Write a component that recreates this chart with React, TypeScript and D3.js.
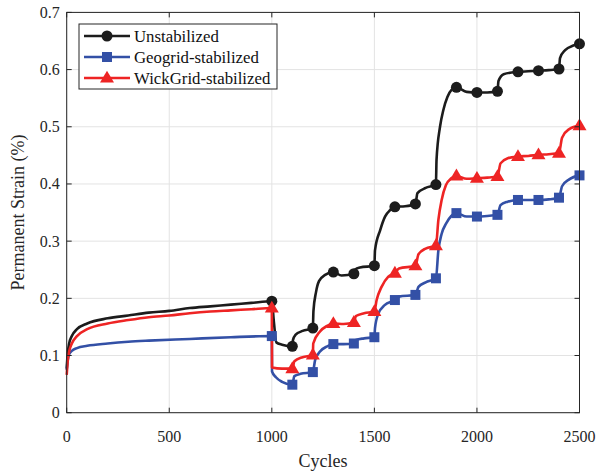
import React, { useEffect, useRef } from 'react'
import * as d3 from 'd3'

// [cycles, permanent strain %]
const unstabilized: [number, number][] = [
  [0, 0.077], [5, 0.104], [12, 0.121], [25, 0.134], [50, 0.146], [100, 0.156],
  [200, 0.165], [300, 0.17], [400, 0.175], [500, 0.178], [600, 0.183], [700, 0.186],
  [800, 0.189], [900, 0.192], [1000, 0.195],
  [1010, 0.159], [1022, 0.123], [1050, 0.119], [1100, 0.116],
  [1103, 0.127], [1115, 0.136], [1150, 0.143], [1200, 0.148],
  [1203, 0.178], [1215, 0.21], [1230, 0.23], [1260, 0.241], [1300, 0.246],
  [1340, 0.24], [1400, 0.243],
  [1405, 0.25], [1430, 0.254], [1500, 0.257],
  [1503, 0.284], [1528, 0.319], [1552, 0.343], [1576, 0.354], [1600, 0.36],
  [1650, 0.361], [1700, 0.365],
  [1710, 0.384], [1750, 0.393], [1800, 0.399],
  [1803, 0.442], [1820, 0.5], [1836, 0.529], [1856, 0.552], [1877, 0.565], [1900, 0.569],
  [1950, 0.561], [2000, 0.56],
  [2050, 0.56], [2100, 0.562],
  [2105, 0.58], [2130, 0.592], [2200, 0.596],
  [2250, 0.597], [2300, 0.598],
  [2350, 0.599], [2400, 0.601],
  [2405, 0.62], [2430, 0.634], [2470, 0.642], [2500, 0.645],
]

const geogrid: [number, number][] = [
  [0, 0.075], [5, 0.092], [12, 0.102], [25, 0.108], [50, 0.113], [100, 0.117],
  [200, 0.121], [300, 0.124], [400, 0.126], [600, 0.129], [800, 0.132], [1000, 0.134],
  [1001, 0.072], [1020, 0.062], [1050, 0.054], [1100, 0.049],
  [1110, 0.064], [1140, 0.068], [1200, 0.071],
  [1211, 0.092], [1235, 0.107], [1270, 0.116], [1300, 0.12],
  [1350, 0.12], [1400, 0.121],
  [1410, 0.127], [1450, 0.13], [1500, 0.132],
  [1503, 0.148], [1519, 0.173], [1550, 0.188], [1600, 0.197],
  [1620, 0.203], [1700, 0.206],
  [1715, 0.22], [1750, 0.228], [1800, 0.235],
  [1812, 0.284], [1828, 0.313], [1850, 0.331], [1875, 0.344], [1900, 0.349],
  [1950, 0.343], [2000, 0.343],
  [2050, 0.344], [2100, 0.346],
  [2115, 0.363], [2150, 0.369], [2200, 0.372],
  [2250, 0.372], [2300, 0.372],
  [2350, 0.373], [2400, 0.376],
  [2415, 0.396], [2450, 0.408], [2500, 0.415],
]

const wickgrid: [number, number][] = [
  [0, 0.066], [5, 0.09], [12, 0.107], [25, 0.121], [50, 0.134], [100, 0.146],
  [200, 0.156], [300, 0.162], [400, 0.167], [500, 0.17], [600, 0.174], [700, 0.177],
  [800, 0.179], [900, 0.181], [1000, 0.183],
  [1001, 0.079], [1050, 0.077], [1100, 0.077],
  [1110, 0.09], [1150, 0.097], [1200, 0.101],
  [1202, 0.121], [1235, 0.142], [1270, 0.152], [1300, 0.156],
  [1350, 0.155], [1400, 0.158],
  [1410, 0.169], [1450, 0.174], [1500, 0.177],
  [1511, 0.197], [1535, 0.22], [1568, 0.238], [1600, 0.244],
  [1620, 0.252], [1700, 0.257],
  [1715, 0.277], [1750, 0.287], [1800, 0.292],
  [1812, 0.337], [1828, 0.372], [1849, 0.398], [1875, 0.41], [1900, 0.414],
  [1950, 0.409], [2000, 0.41],
  [2050, 0.411], [2100, 0.413],
  [2115, 0.436], [2150, 0.445], [2200, 0.448],
  [2250, 0.449], [2300, 0.451],
  [2350, 0.452], [2400, 0.454],
  [2415, 0.481], [2450, 0.496], [2500, 0.502],
]

const seriesNames = ['Unstabilized', 'Geogrid-stabilized', 'WickGrid-stabilized']
const xTicks = [0, 500, 1000, 1500, 2000, 2500]
const yTicks = [0, 0.1, 0.2, 0.3, 0.4, 0.5, 0.6, 0.7]

const W = 599
const H = 472

const App: React.FC = () => {
  const ref = useRef<SVGSVGElement>(null)

  useEffect(() => {
    const left = 66.7
    const right = 579.5
    const top = 12.4
    const bottom = 412.7
    const font = '"Liberation Serif", "Times New Roman", serif'
    const axisColor = '#262626'

    const svg = d3.select(ref.current)
    svg.selectAll('*').remove()

    const x = d3.scaleLinear().domain([0, 2500]).range([left, right])
    const y = d3.scaleLinear().domain([0, 0.7]).range([bottom, top])

    /* grid */
    const grid = svg.append('g')
    grid
      .selectAll('.gx')
      .data(xTicks)
      .enter()
      .append('line')
      .attr('x1', (d) => x(d))
      .attr('x2', (d) => x(d))
      .attr('y1', top)
      .attr('y2', bottom)
      .attr('stroke', '#e3e3e3')
      .attr('stroke-width', 1)
    grid
      .selectAll('.gy')
      .data(yTicks)
      .enter()
      .append('line')
      .attr('x1', left)
      .attr('x2', right)
      .attr('y1', (d) => y(d))
      .attr('y2', (d) => y(d))
      .attr('stroke', '#e3e3e3')
      .attr('stroke-width', 1)

    /* lines and markers */
    const colors = ['#1c1c1c', '#3350a6', '#ee2424']
    const data = [unstabilized, geogrid, wickgrid]
    const line = d3
      .line<[number, number]>()
      .x((d) => x(d[0]))
      .y((d) => y(d[1]))
      .curve(d3.curveMonotoneX)

    const drawMarker = (g: any, i: number, cx: number, cy: number) => {
      if (i === 0) {
        g.append('circle').attr('cx', cx).attr('cy', cy).attr('r', 5.5).attr('fill', colors[0])
      } else if (i === 1) {
        g.append('rect')
          .attr('x', cx - 5)
          .attr('y', cy - 5)
          .attr('width', 10)
          .attr('height', 10)
          .attr('fill', colors[1])
      } else {
        const s = 7
        g.append('path')
          .attr('d', `M${cx},${cy - s * 1.05}L${cx + s},${cy + s * 0.65}L${cx - s},${cy + s * 0.65}Z`)
          .attr('fill', colors[2])
      }
    }

    const plot = svg.append('g')
    data.forEach((series, i) => {
      plot
        .append('path')
        .attr('d', line(series))
        .attr('fill', 'none')
        .attr('stroke', colors[i])
        .attr('stroke-width', 2.6)
        .attr('stroke-linejoin', 'round')
    })
    data.forEach((series, i) => {
      const g = plot.append('g')
      series
        .filter((d) => d[0] >= 1000 && d[0] % 100 === 0)
        .forEach((d) => drawMarker(g, i, x(d[0]), y(d[1])))
    })

    /* axes box with inward ticks */
    const axes = svg.append('g').attr('stroke', axisColor).attr('stroke-width', 1)
    axes
      .append('rect')
      .attr('x', left)
      .attr('y', top)
      .attr('width', right - left)
      .attr('height', bottom - top)
      .attr('fill', 'none')
    xTicks.forEach((t) => {
      axes.append('line').attr('x1', x(t)).attr('x2', x(t)).attr('y1', bottom).attr('y2', bottom - 5)
      axes.append('line').attr('x1', x(t)).attr('x2', x(t)).attr('y1', top).attr('y2', top + 5)
    })
    yTicks.forEach((t) => {
      axes.append('line').attr('x1', left).attr('x2', left + 5).attr('y1', y(t)).attr('y2', y(t))
      axes.append('line').attr('x1', right).attr('x2', right - 5).attr('y1', y(t)).attr('y2', y(t))
    })

    /* tick labels */
    svg
      .append('g')
      .selectAll('text')
      .data(xTicks)
      .enter()
      .append('text')
      .attr('x', (d) => x(d))
      .attr('y', bottom + 29)
      .attr('text-anchor', 'middle')
      .attr('font-family', font)
      .attr('font-size', 16)
      .attr('fill', axisColor)
      .text((d) => String(d))
    svg
      .append('g')
      .selectAll('text')
      .data(yTicks)
      .enter()
      .append('text')
      .attr('x', left - 7)
      .attr('y', (d) => y(d) + 5.5)
      .attr('text-anchor', 'end')
      .attr('font-family', font)
      .attr('font-size', 16)
      .attr('fill', axisColor)
      .text((d) => (d === 0 ? '0' : d.toFixed(1)))

    /* axis titles */
    svg
      .append('text')
      .attr('x', (left + right) / 2)
      .attr('y', 467)
      .attr('text-anchor', 'middle')
      .attr('font-family', font)
      .attr('font-size', 18)
      .attr('fill', axisColor)
      .text('Cycles')
    svg
      .append('text')
      .attr('transform', `translate(24, ${(top + bottom) / 2}) rotate(-90)`)
      .attr('text-anchor', 'middle')
      .attr('font-family', font)
      .attr('font-size', 18)
      .attr('fill', axisColor)
      .text('Permanent Strain (%)')

    /* legend */
    const legend = svg.append('g')
    legend
      .append('rect')
      .attr('x', 79)
      .attr('y', 24)
      .attr('width', 198)
      .attr('height', 65)
      .attr('fill', '#fff')
      .attr('stroke', axisColor)
      .attr('stroke-width', 1)
    seriesNames.forEach((name, i) => {
      const ly = 36 + i * 21
      legend
        .append('line')
        .attr('x1', 84)
        .attr('x2', 130)
        .attr('y1', ly)
        .attr('y2', ly)
        .attr('stroke', colors[i])
        .attr('stroke-width', 2.6)
      drawMarker(legend, i, 107, ly)
      legend
        .append('text')
        .attr('x', 134)
        .attr('y', ly + 5.5)
        .attr('font-family', font)
        .attr('font-size', 16.8)
        .attr('fill', '#111')
        .text(name)
    })
  }, [])

  return (
    <svg
      ref={ref}
      width={W}
      height={H}
      style={{ position: 'absolute', left: 0, top: 0, background: '#fff' }}
    />
  )
}

export default App
